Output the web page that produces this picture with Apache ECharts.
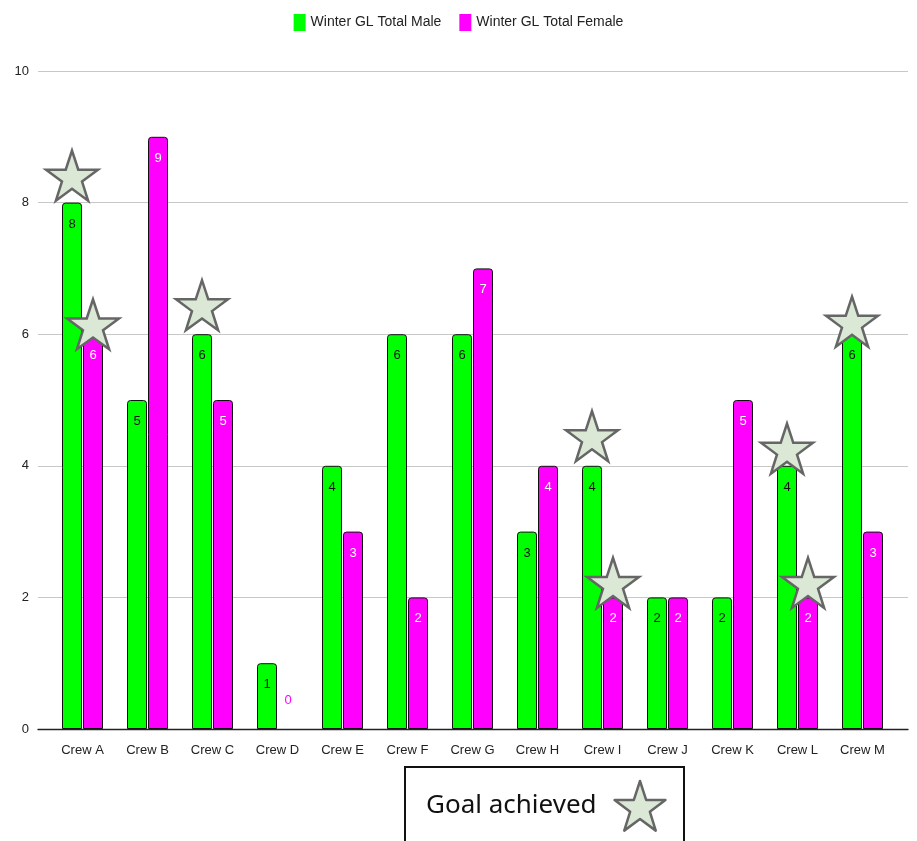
<!DOCTYPE html>
<html>
<head>
<meta charset="utf-8">
<script src="https://cdn.jsdelivr.net/npm/echarts@6/dist/echarts.min.js"></script>
<style>
  html, body { margin: 0; padding: 0; background: #fff; }
  #chart { width: 917px; height: 841px; }
</style>
</head>
<body>
<div id="chart"></div>
<script>
// 크루별 겨울 GL 인원 — 그림에서 읽은 값
const crews = ["Crew A", "Crew B", "Crew C", "Crew D", "Crew E", "Crew F", "Crew G", "Crew H", "Crew I", "Crew J", "Crew K", "Crew L", "Crew M"];
const maleTotals = [8, 5, 6, 1, 4, 6, 6, 3, 4, 2, 2, 4, 6];
const femaleTotals = [6, 9, 5, 0, 3, 2, 7, 4, 2, 2, 5, 2, 3];
const yTicks = [0, 2, 4, 6, 8, 10];

// 목표 달성 별 — [크루, 별 중심 높이(값 단위)]
const maleStars = [["Crew A", 8.41], ["Crew C", 6.44], ["Crew I", 4.45], ["Crew L", 4.26], ["Crew M", 6.19]];
const femaleStars = [["Crew A", 6.15], ["Crew I", 2.22], ["Crew L", 2.22]];

const GREEN = "#00ff00";
const MAGENTA = "#ff00ff";
const NARROW = "'Liberation Sans Narrow', 'Liberation Sans', Arial, sans-serif";
// 별 모양 꼭짓점(0~100 박스)
const STAR_PTS = [[50, 0], [61.8, 35.1], [98.9, 35.1], [68.9, 56.8], [80.3, 91.9], [50, 70.2], [19.7, 91.9], [31.1, 56.8], [1.1, 35.1], [38.2, 35.1]];
const STAR = "path://M" + STAR_PTS.map((p) => p.join(",")).join(" L") + " Z";
const starStyle = { color: "#dbe8d6", borderColor: "#666666", borderWidth: 2.5 };

const toMarks = (list) => list.map(([c, v]) => ({ coord: [c, v] }));

const chart = echarts.init(document.getElementById("chart"), null, { renderer: "canvas" });

chart.setOption({
  backgroundColor: "#ffffff",
  animation: false,
  textStyle: { fontFamily: NARROW },
  legend: {
    top: 9,
    left: "center",
    itemWidth: 12,
    itemHeight: 17,
    itemGap: 18,
    icon: "rect",
    itemStyle: { borderWidth: 0 },
    textStyle: { fontSize: 14, color: "#222", fontFamily: NARROW },
    data: ["Winter GL Total Male", "Winter GL Total Female"]
  },
  // grid 0: 눈금/격자선(넓게), grid 1: 막대(카테고리 여백 포함)
  grid: [
    { left: 38, right: 9, top: 71, bottom: 112 },
    { left: 50, right: 22, top: 71, bottom: 112 }
  ],
  xAxis: [
    {
      gridIndex: 0, type: "value", min: 0, max: 1,
      axisLine: { show: true, onZero: false, lineStyle: { color: "#222", width: 1.4 } },
      axisTick: { show: false }, axisLabel: { show: false }, splitLine: { show: false }
    },
    {
      gridIndex: 1, type: "category", data: crews,
      axisLine: { show: false }, axisTick: { show: false },
      axisLabel: { color: "#222", fontSize: 13, margin: 15, fontFamily: NARROW }
    }
  ],
  yAxis: [
    {
      gridIndex: 0, type: "value", min: yTicks[0], max: yTicks[yTicks.length - 1], interval: 2,
      axisLine: { show: false }, axisTick: { show: false },
      axisLabel: { color: "#222", fontSize: 13, margin: 9, fontFamily: NARROW },
      splitLine: { lineStyle: { color: "#c8c8c8", width: 1.2 } }
    },
    {
      gridIndex: 1, type: "value", min: 0, max: 10, show: false
    }
  ],
  series: [
    {
      name: "Winter GL Total Male",
      type: "bar",
      xAxisIndex: 1, yAxisIndex: 1,
      data: maleTotals,
      barWidth: 20,
      barGap: "5%",
      itemStyle: { color: GREEN, borderColor: "#111", borderWidth: 1, borderRadius: [3, 3, 0, 0] },
      label: { show: true, position: "insideTop", distance: 15, color: "#111", fontSize: 13, fontFamily: NARROW },
      markPoint: { symbol: STAR, symbolSize: [52, 50], itemStyle: starStyle, label: { show: false }, data: toMarks(maleStars) }
    },
    {
      name: "Winter GL Total Female",
      type: "bar",
      xAxisIndex: 1, yAxisIndex: 1,
      data: femaleTotals.map((v) => v === 0
        ? { value: v, itemStyle: { borderWidth: 0 }, label: { position: "top", distance: 22, color: MAGENTA } }
        : v),
      barWidth: 20,
      itemStyle: { color: MAGENTA, borderColor: "#111", borderWidth: 1, borderRadius: [3, 3, 0, 0] },
      label: { show: true, position: "insideTop", distance: 15, color: "#ffffff", fontSize: 13, fontFamily: NARROW },
      markPoint: { symbol: STAR, symbolSize: [52, 50], itemStyle: starStyle, label: { show: false }, data: toMarks(femaleStars) }
    }
  ],
  graphic: [
    {
      type: "rect",
      shape: { x: 405, y: 767, width: 279, height: 90 },
      style: { fill: "#fff", stroke: "#111", lineWidth: 2 }
    },
    {
      type: "text", x: 426, y: 806,
      style: { text: "Goal achieved", fill: "#111", font: "26px 'Noto Sans', sans-serif", verticalAlign: "middle" }
    },
    {
      type: "polygon",
      shape: { points: STAR_PTS.map(([px, py]) => [614 + px * 0.52, 781 + py * 0.54]) },
      style: { fill: "#dbe8d6", stroke: "#666666", lineWidth: 2.5, lineJoin: "round" }
    }
  ]
});
</script>
</body>
</html>
